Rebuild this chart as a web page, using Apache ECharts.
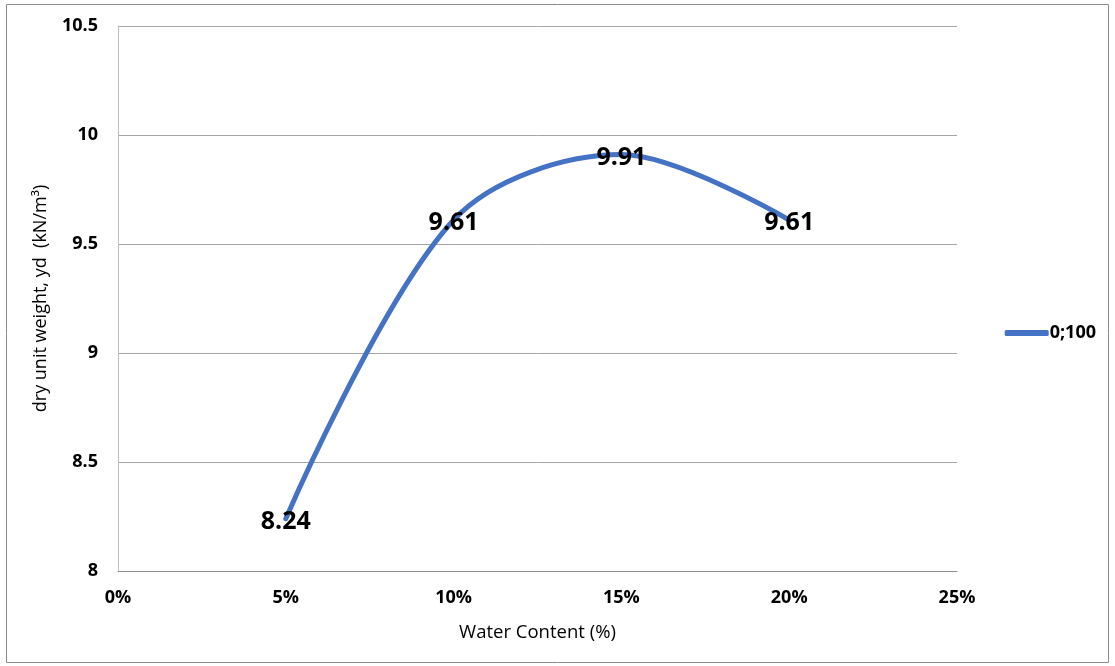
<!DOCTYPE html>
<html>
<head>
<meta charset="utf-8">
<script src="https://cdn.jsdelivr.net/npm/echarts@6/dist/echarts.min.js"></script>
<style>
  html, body { margin: 0; padding: 0; background: #fff; }
  #chart { width: 1115px; height: 666px; }
</style>
</head>
<body>
<div id="chart"></div>
<script>
// Compaction curve: water content (fraction) vs dry unit weight
const waterContent = [0.05, 0.10, 0.15, 0.20];
const dryUnitWeight = [8.24, 9.61, 9.91, 9.61];
const seriesName = '0;100';
const xTicks = { min: 0, max: 0.25, interval: 0.05 };
const yTicks = { min: 8, max: 10.5, interval: 0.5 };

const font = "'Open Sans', 'Noto Sans', sans-serif";
const chart = echarts.init(document.getElementById('chart'));

chart.setOption({
  animation: false,
  backgroundColor: '#fff',
  textStyle: { fontFamily: font },
  graphic: [{
    type: 'rect',
    shape: { x: 6.5, y: 4.5, width: 1102, height: 658 },
    style: { fill: 'none', stroke: '#8c8c8c', lineWidth: 1 },
    silent: true
  }],
  grid: { left: 118, right: 158, top: 26, bottom: 95, containLabel: false },
  legend: {
    right: 14, top: 'middle', orient: 'vertical',
    itemWidth: 44, itemHeight: 6, itemGap: 0,
    icon: 'roundRect',
    textStyle: { fontSize: 18, fontWeight: 'bold', color: '#000', fontFamily: font, padding: [0, 0, 0, -4] },
    data: [{ name: seriesName }]
  },
  xAxis: {
    type: 'value',
    min: xTicks.min, max: xTicks.max, interval: xTicks.interval,
    name: 'Water Content (%)',
    nameLocation: 'middle', nameGap: 52,
    nameTextStyle: { fontSize: 18.5, color: '#000', fontFamily: font },
    axisLine: { show: true, lineStyle: { color: '#8c8c8c', width: 1 } },
    axisTick: { show: false },
    splitLine: { show: false },
    axisLabel: {
      margin: 18, fontSize: 18, fontWeight: 'bold', color: '#000', fontFamily: font,
      formatter: v => Math.round(v * 100) + '%'
    }
  },
  yAxis: {
    type: 'value',
    min: yTicks.min, max: yTicks.max, interval: yTicks.interval,
    name: 'dry unit weight, yd  (kN/m³)',
    nameLocation: 'middle', nameGap: 68, nameRotate: 90,
    nameTextStyle: { fontSize: 18, color: '#000', fontFamily: font },
    axisLine: { show: true, lineStyle: { color: '#bfbfbf', width: 1 } },
    axisTick: { show: false },
    splitLine: { show: true, lineStyle: { color: '#a6a6a6', width: 1 } },
    axisLabel: {
      margin: 20, fontSize: 18, fontWeight: 'bold', color: '#000', fontFamily: font,
      formatter: v => String(v)
    }
  },
  series: [{
    name: seriesName,
    type: 'line',
    smooth: 0.33,
    data: waterContent.map((x, i) => [x, dryUnitWeight[i]]),
    symbol: 'circle',
    symbolSize: 0,
    showSymbol: true,
    lineStyle: { color: '#4472C4', width: 5, cap: 'round' },
    itemStyle: { color: '#4472C4' },
    label: {
      show: true, position: 'inside', offset: [0, 3],
      fontSize: 25, fontWeight: 'bold', color: '#000', fontFamily: font,
      formatter: p => p.value[1].toFixed(2)
    }
  }]
});
</script>
</body>
</html>
